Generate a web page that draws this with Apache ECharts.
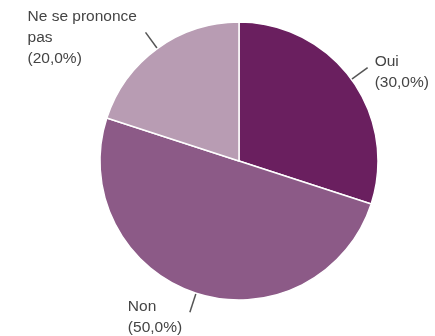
<!DOCTYPE html>
<html><head><meta charset="utf-8">
<script src="https://cdn.jsdelivr.net/npm/echarts@6/dist/echarts.min.js"></script>
<style>html,body{margin:0;padding:0;background:#fff}#c{width:435px;height:336px}</style>
</head><body><div id="c"></div>
<script>
const categories = ["Oui", "Non", "Ne se prononce pas"];
const values = [30, 50, 20];
const labelTexts = ["Oui\n(30,0%)", "Non\n(50,0%)", "Ne se prononce\npas\n(20,0%)"];
const colors = ["#6a1f5f", "#8c5a87", "#b89cb3"];
const richWidths = [56, 55, 111];

const chart = echarts.init(document.getElementById('c'));
chart.setOption({
  animation: false,
  series: [{
    type: 'pie',
    center: [239, 161],
    radius: 139,
    startAngle: 90,
    clockwise: true,
    avoidLabelOverlap: false,
    itemStyle: { borderColor: '#ffffff', borderWidth: 1.5 },
    label: {
      show: true,
      position: 'outside',
      distanceToLabelLine: 7,
      padding: [10, 0, 0, 0],
      fontFamily: 'Liberation Sans, Arial, sans-serif',
      fontSize: 15.5,
      color: '#444',
      lineHeight: 21
    },
    labelLine: { show: true, length: 20, length2: 0, lineStyle: { color: '#555', width: 1.5 } },
    data: categories.map((c, i) => ({
      name: c,
      value: values[i],
      itemStyle: { color: colors[i] },
      label: {
        formatter: labelTexts[i].split('\n').map(t => '{t' + i + '|' + t + '}').join('\n'),
        rich: { ['t' + i]: { width: richWidths[i], align: 'left', fontSize: 15.5, lineHeight: 21, color: '#444', fontFamily: 'Liberation Sans, Arial, sans-serif' } }
      }
    }))
  }]
});
</script></body></html>
